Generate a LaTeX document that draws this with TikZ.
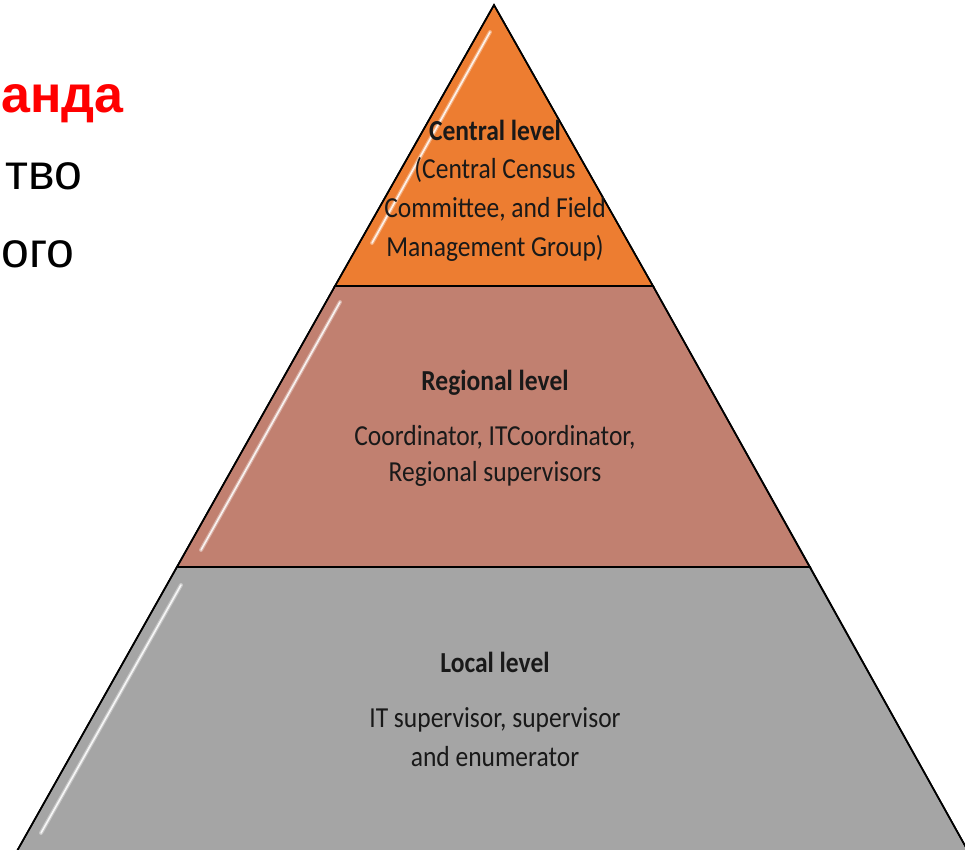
\documentclass[tikz,border=0pt]{standalone}
\usepackage{fontspec}
\setmainfont{Carlito}[FakeStretch=0.88]
\newfontfamily\rufont{Liberation Sans}
\definecolor{lvlorange}{RGB}{237,125,49}
\definecolor{lvlrose}{RGB}{193,128,112}
\definecolor{lvlgray}{RGB}{165,165,165}
\definecolor{rured}{RGB}{255,0,0}
\definecolor{txtdark}{RGB}{25,25,25}
\tikzset{
  band/.style={draw=black, line width=1.6pt, line join=miter},
  gloss/.style={draw=white, line width=4pt, opacity=0.35, line cap=round},
  glosscore/.style={draw=white, line width=1.6pt, opacity=0.85, line cap=round},
  lvltitle/.style={font=\fontsize{29}{39}\selectfont\bfseries, text=txtdark, inner sep=0pt},
  lvltext/.style={font=\fontsize{29}{39}\selectfont, text=txtdark, inner sep=0pt, align=center},
  rutext/.style={font=\rufont\fontsize{50}{60}\selectfont, text=black, inner sep=0pt, anchor=base west},
  rutitle/.style={font=\rufont\fontsize{52}{60}\selectfont\bfseries, text=rured, inner sep=0pt, anchor=base west}
}
\begin{document}
\begin{tikzpicture}[x=1pt,y=-1pt]
\useasboundingbox (0,0) rectangle (965,850);
\fill[white] (0,0) rectangle (965,850);
\clip (0,0) rectangle (965,850);

% pyramid bands
\path[band, fill=lvlgray] (177,567) -- (17,851) -- (968,851) -- (810,567) -- cycle;
\path[band, fill=lvlrose] (335,286) -- (177,567) -- (810,567) -- (653,286) -- cycle;
\path[band, fill=lvlorange] (494,5) -- (335,286) -- (653,286) -- cycle;

% glossy highlights
\path[gloss] (490,32) -- (372,243);
\path[glosscore] (490,32) -- (372,243);
\path[gloss] (340,302) -- (201,550);
\path[glosscore] (340,302) -- (201,550);
\path[gloss] (181,585) -- (41,833);
\path[glosscore] (181,585) -- (41,833);

% redraw outlines on top
\draw[band] (494,5) -- (335,286) -- (653,286) -- cycle;
\draw[band] (177,567) -- (810,567);
\draw[band] (335,286) -- (17,851);
\draw[band] (653,286) -- (968,851);

% left slide text (cut off)
\node[rutitle] (rt1) at (1,113) {анда};
\node[rutext] (rt2) at (5,190) {тво};
\node[rutext] (rt3) at (1,267) {ого};

% level texts
\node[lvltitle] (ctitle) at (495,130) {Central level};
\node[lvltext] (cbody) at (495,209) {(Central Census\\Committee, and Field\\Management Group)};
\node[lvltitle] (rtitle) at (495,383) {Regional level};
\node[lvltext, font=\fontsize{29}{36}\selectfont] (rbody) at (495,456) {Coordinator, ITCoordinator,\\Regional supervisors};
\node[lvltitle] (ltitle) at (495,662) {Local level};
\node[lvltext] (lbody) at (495,737) {IT supervisor, supervisor\\and enumerator};
\end{tikzpicture}
\end{document}
